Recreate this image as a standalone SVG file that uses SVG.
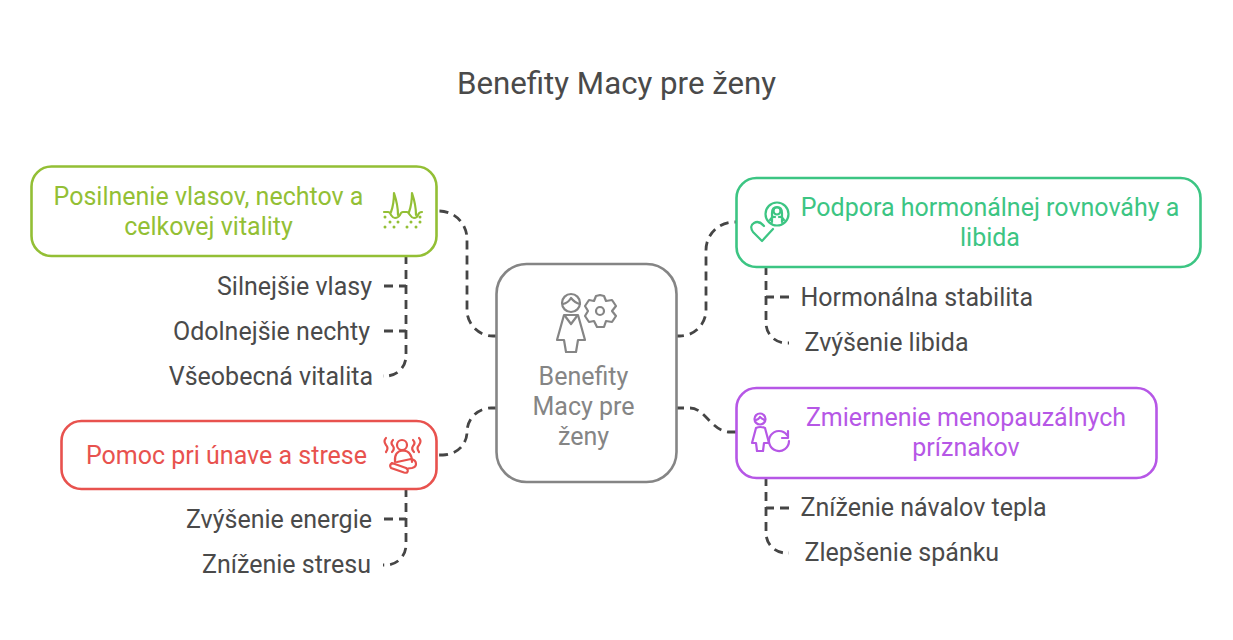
<svg xmlns="http://www.w3.org/2000/svg" width="1233" height="640" viewBox="0 0 1233 640">
<style>
text{font-family:Roboto,"Liberation Sans",sans-serif;font-size:25px;fill:#4a4a4a}
.m{text-anchor:middle}.e{text-anchor:end}
.box{fill:#fff;stroke-width:2.6}
.c{fill:none;stroke:#454545;stroke-width:2.8;stroke-dasharray:9 6}
.i{fill:none;stroke-width:2.2;stroke-linecap:round;stroke-linejoin:round}
</style>
<rect width="1233" height="640" fill="#fff"/>
<text id="title" x="616.500" y="94" class="m" style="font-size:31.250px">Benefity Macy pre ženy</text>
<g id="connectors">
<path class="c" d="M497 336H493A26 26 0 0 1 467 310V239A28 28 0 0 0 439 211H437"/>
<path class="c" d="M497 408H491A24 24 0 0 0 467 432A24 23 0 0 1 443 455H437"/>
<path class="c" d="M675 336H680A26 26 0 0 0 706 310V250A28 28 0 0 1 734 222H736"/>
<path class="c" d="M675 408H690C705 408 712 432 730 432H736"/>
<path class="c" d="M406 255V356A20 20 0 0 1 386 376H383"/>
<path class="c" d="M384 286H406"/>
<path class="c" d="M384 331H406"/>
<path class="c" d="M406 488V545A20 20 0 0 1 386 565H383"/>
<path class="c" d="M384 519H406"/>
<path class="c" d="M766 266V323A20 20 0 0 0 786 343H789"/>
<path class="c" d="M789 297H766"/>
<path class="c" d="M766 477V533A20 20 0 0 0 786 553H789"/>
<path class="c" d="M789 508H766"/>
</g>
<g id="center">
<rect class="box" x="496.500" y="264" width="180" height="218" rx="30" stroke="#858585"/>
<g class="i" stroke="#858585" stroke-width="2.500">
<circle cx="571" cy="303" r="9"/>
<path d="M563 304Q568 303 571 298Q575 303 580 304"/>
<path d="M564 315H578L585 340H578L576 352H566L564 340H557Z"/>
<path d="M565 316L571 324L577 316"/>
<path d="M596 296L600 295L604 296L606 301L612 300L616 306L612 311L616 316L612 322L606 321L604 327H597L594 321L589 322L585 316L588 311L585 306L589 300L594 301Z"/>
<circle cx="600" cy="311" r="4"/>
</g>
<text class="m" style="fill:#858585" x="583.500" y="385">Benefity</text>
<text class="m" style="fill:#858585" x="583.500" y="415">Macy pre</text>
<text class="m" style="fill:#858585" x="583.500" y="445">ženy</text>
</g>
<g id="n1">
<rect class="box" x="31.500" y="166.500" width="405" height="89.500" rx="20" stroke="#93bf35"/>
<text class="m" style="fill:#93bf35" x="208.500" y="205">Posilnenie vlasov, nechtov a</text>
<text class="m" style="fill:#93bf35" x="208.500" y="235">celkovej vitality</text>
<g class="i" stroke="#93bf35" fill="none">
<path d="M384 212H388Q390 212 391 215Q393 218 395 218Q398 218 400 215Q401 212 403 212H407Q408 212 410 215Q412 218 414 218Q417 218 418 215Q419 212 422 212"/>
<path d="M391 212Q394 204 394 193Q398 205 398 215M409 212Q412 204 412 193Q416 205 416 215"/>
</g>
<g fill="#93bf35">
<circle cx="385" cy="217" r="1.500"/><circle cx="390" cy="222" r="1.500"/><circle cx="398" cy="222" r="1.500"/><circle cx="411" cy="222" r="1.500"/><circle cx="420" cy="222" r="1.500"/><circle cx="385" cy="227" r="1.500"/><circle cx="394" cy="227" r="1.500"/><circle cx="407" cy="227" r="1.500"/><circle cx="416" cy="227" r="1.500"/><circle cx="420" cy="217" r="1.500"/>
</g>
</g>
<g id="n2">
<rect class="box" x="61.500" y="421" width="375" height="68" rx="20" stroke="#e8524e"/>
<text x="226.500" y="464" class="m" style="fill:#e8524e">Pomoc pri únave a strese</text>
<g class="i" stroke="#e8524e">
<circle cx="402" cy="445" r="5"/>
<path d="M395 462Q394 451 403 450.500Q412 451 412 462"/>
<path d="M392 463L406 468Q409 470 407 472.500Q406 473 404 472.500L391 468Q389 465 392 463Z"/>
<path d="M397 462L411 459Q416 460 416 464Q416 467 412 468L408 468.500"/>
<path d="M386 438Q383 441 386 445Q389 448 386 452M393 440Q390 443 393 446Q395 449 392 452M413 440Q416 443 413 446Q411 449 414 452M419 438Q422 441 419 445Q416 448 419 452"/>
</g>
</g>
<g id="n3">
<rect class="box" x="736.500" y="178" width="464" height="89" rx="20" stroke="#3cc583"/>
<text x="990" y="216" class="m" style="fill:#3cc583">Podpora hormonálnej rovnováhy a</text>
<text x="990" y="246" class="m" style="fill:#3cc583">libida</text>
<g class="i" stroke="#3cc583" stroke-width="2.500">
<circle cx="777" cy="214" r="11.500"/>
<circle cx="777" cy="211" r="3.500"/>
<path d="M772 222V213Q772 207 777 207Q782 207 782 213V222M770 220Q772 216 775 217M784 220Q782 216 779 217"/>
<path d="M773 229L762 241L753 232Q749 226 754 223Q759 220 764 226"/>
</g>
</g>
<g id="n4">
<rect class="box" x="736.500" y="388" width="420" height="90" rx="20" stroke="#b657e6"/>
<text x="966" y="426" class="m" style="fill:#b657e6">Zmiernenie menopauzálnych</text>
<text x="966" y="456" class="m" style="fill:#b657e6">príznakov</text>
<g class="i" stroke="#b657e6" stroke-width="2.500">
<circle cx="760" cy="419" r="5.500"/>
<path d="M756 420Q759 419 760 417Q762 419 765 420"/>
<path d="M756 428Q760 426 765 428L769 443H764L763 451H757L756 443H752Z"/>
<path d="M787 435A10 10 0 1 0 789 441"/>
<path d="M788 431V438H782"/>
</g>
</g>
<text class="e" x="372" y="295">Silnejšie vlasy</text>
<text class="e" x="370" y="340">Odolnejšie nechty</text>
<text class="e" x="373" y="385">Všeobecná vitalita</text>
<text class="e" x="372" y="528">Zvýšenie energie</text>
<text class="e" x="371" y="573">Zníženie stresu</text>
<text x="800.500" y="306">Hormonálna stabilita</text>
<text x="804.500" y="351">Zvýšenie libida</text>
<text x="800.500" y="516">Zníženie návalov tepla</text>
<text x="804.500" y="561">Zlepšenie spánku</text>
</svg>
